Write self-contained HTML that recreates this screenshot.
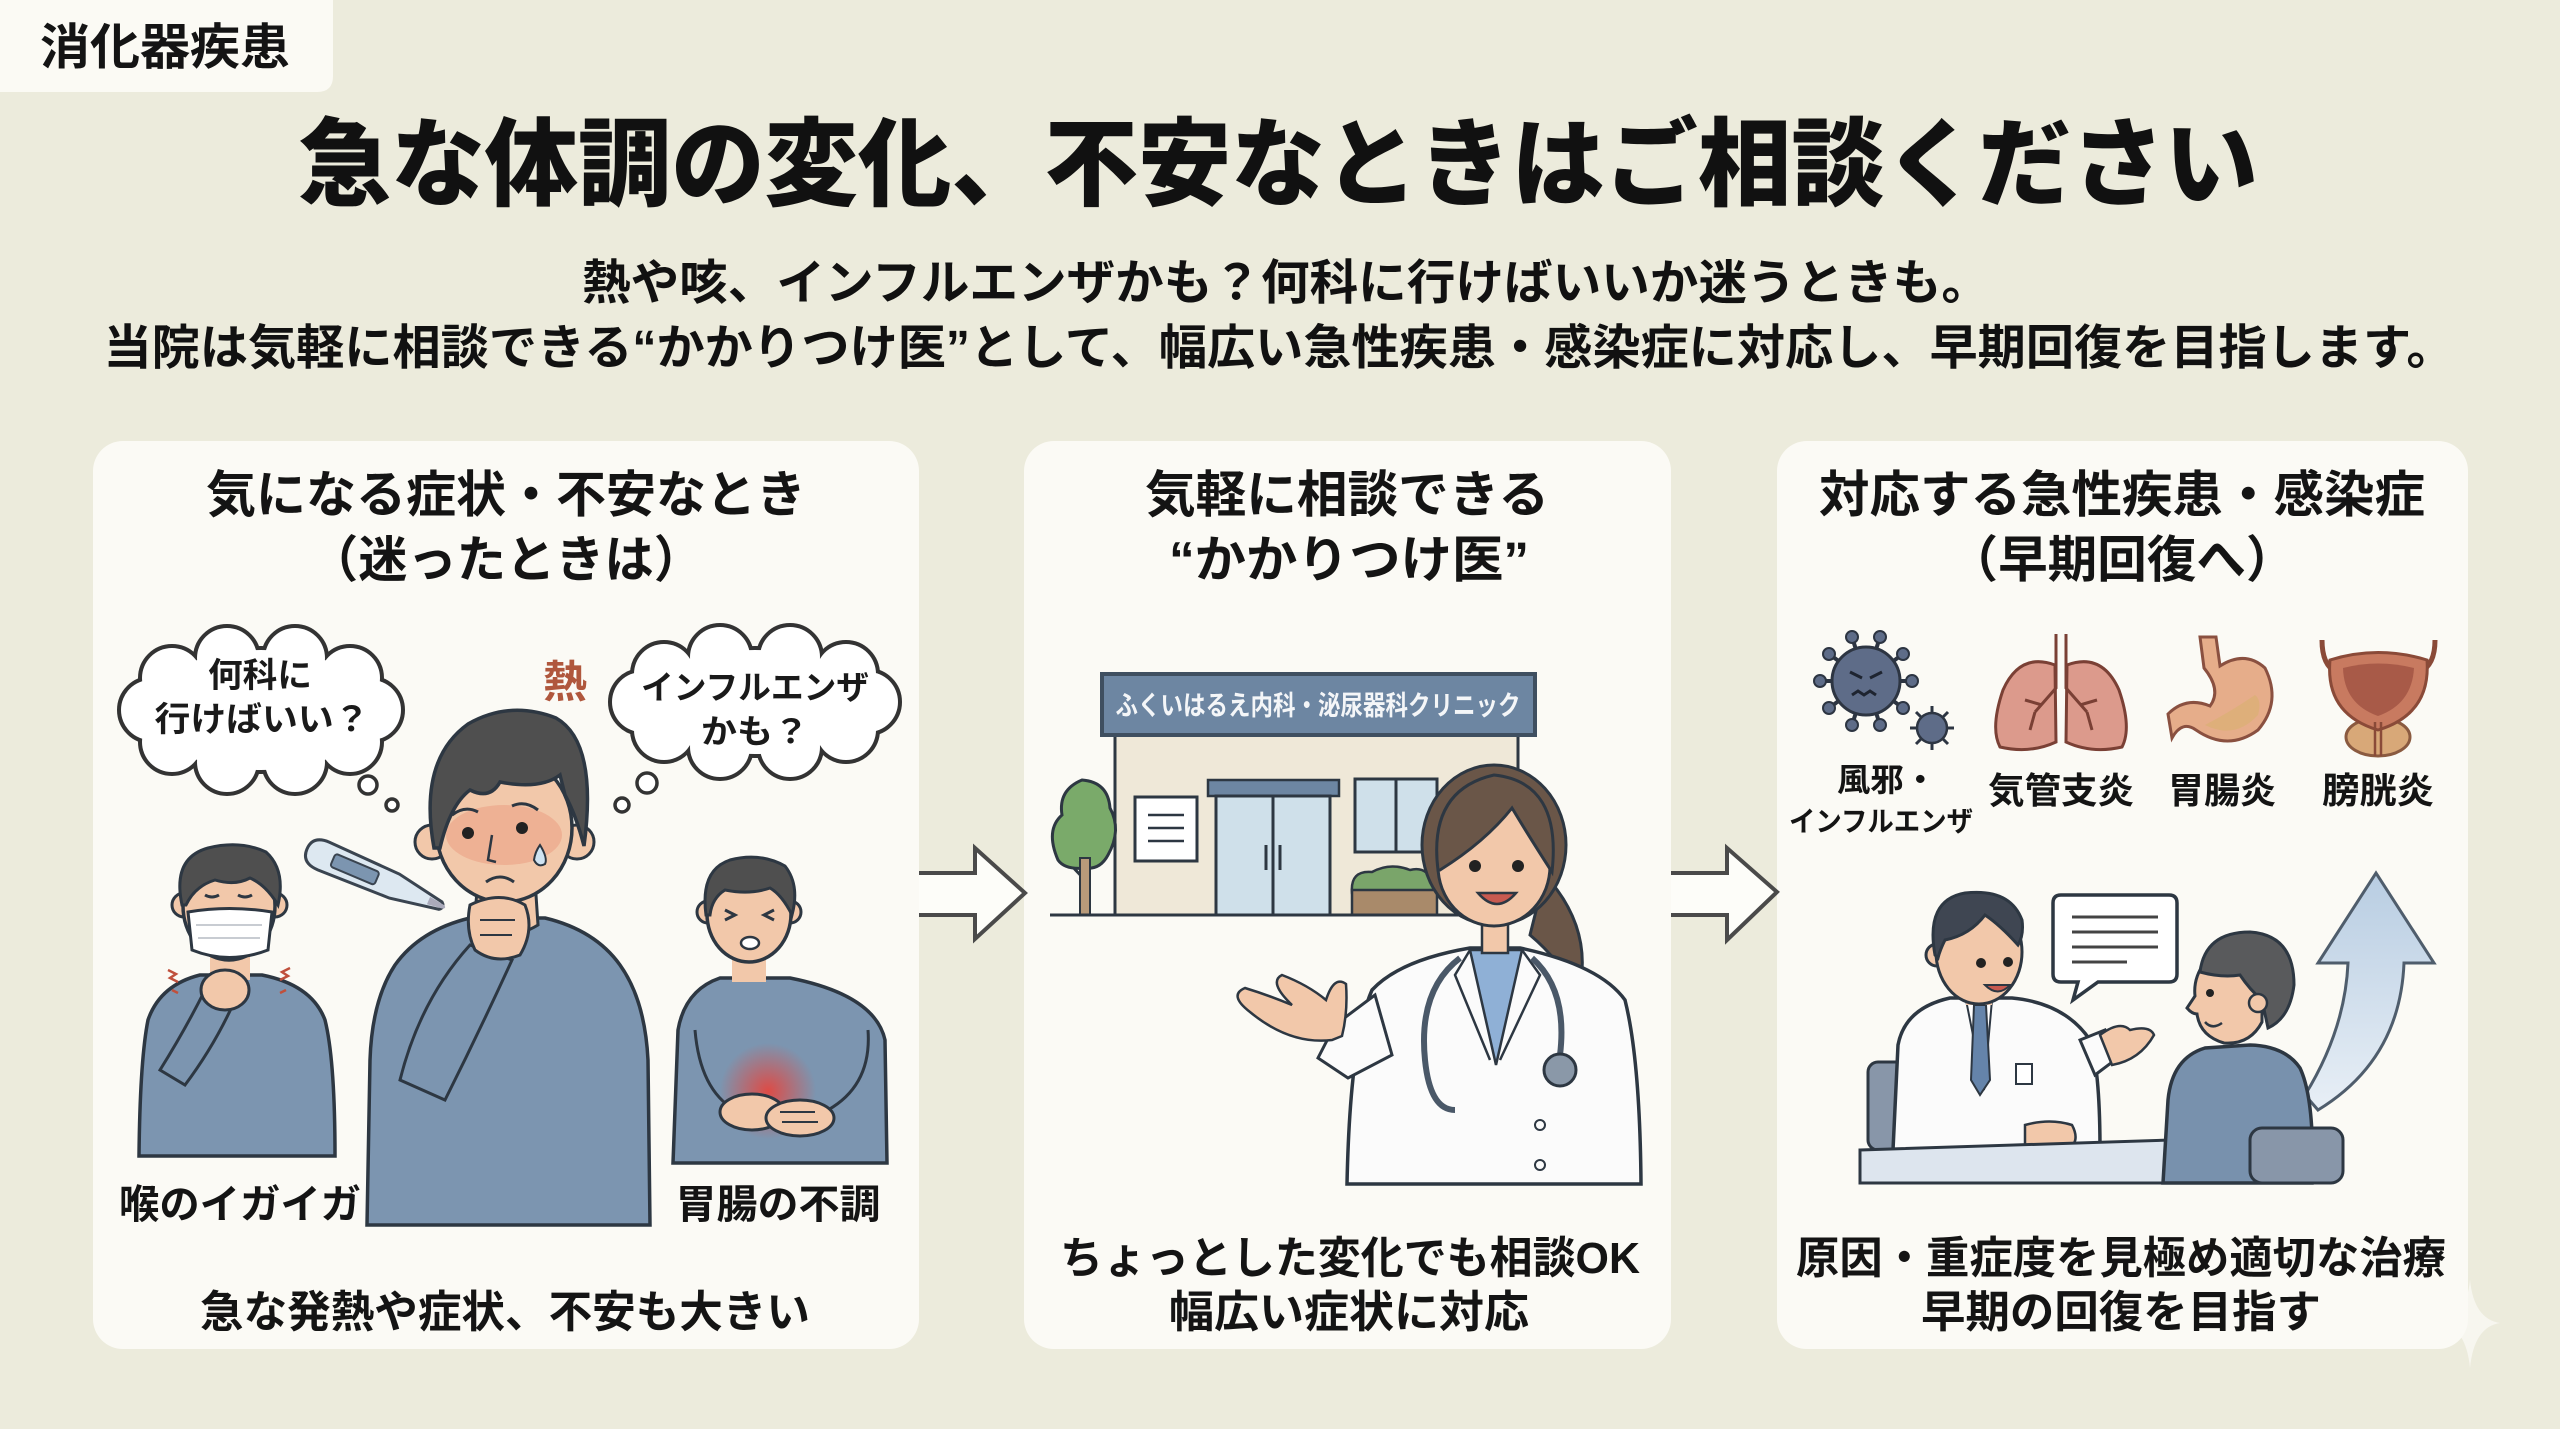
<!DOCTYPE html>
<html><head><meta charset="utf-8">
<style>
html,body{margin:0;padding:0;background:#ecebdc;}
body{width:2560px;height:1429px;overflow:hidden;}
svg{display:block;}
text{font-family:"Liberation Sans","Noto Sans CJK JP",sans-serif;}
</style></head>
<body>
<svg width="2560" height="1429" viewBox="0 0 2560 1429" xmlns="http://www.w3.org/2000/svg">
<defs>
<linearGradient id="ag" x1="0" y1="0" x2="0" y2="1">
<stop offset="0" stop-color="#b8cde2"/><stop offset="1" stop-color="#e8eff6"/>
</linearGradient>
<radialGradient id="glow" cx="0.5" cy="0.5" r="0.5">
<stop offset="0" stop-color="#e8433a" stop-opacity="0.9"/><stop offset="1" stop-color="#e8433a" stop-opacity="0"/>
</radialGradient>
</defs>
<rect width="2560" height="1429" fill="#ecebdc"/>

<!-- tag -->
<path d="M0 0 H333 V76 Q333 92 317 92 H0 Z" fill="#fbfaf4"/>
<text x="40" y="64" font-size="49" font-weight="700" fill="#141414" textLength="250" lengthAdjust="spacingAndGlyphs">消化器疾患</text>

<!-- title -->
<text x="1278" y="198" font-size="96" font-weight="900" fill="#111" text-anchor="middle" textLength="1960" lengthAdjust="spacingAndGlyphs">急な体調の変化、不安なときはご相談ください</text>
<text x="1286" y="299" font-size="48" font-weight="700" fill="#111" text-anchor="middle" textLength="1408" lengthAdjust="spacingAndGlyphs">熱や咳、インフルエンザかも？何科に行けばいいか迷うときも。</text>
<text x="1279" y="364" font-size="48" font-weight="700" fill="#111" text-anchor="middle" textLength="2351" lengthAdjust="spacingAndGlyphs">当院は気軽に相談できる“かかりつけ医”として、幅広い急性疾患・感染症に対応し、早期回復を目指します。</text>

<!-- sparkle -->
<path d="M2470 1280 Q2474 1319 2500 1323 Q2474 1327 2470 1368 Q2466 1327 2440 1323 Q2466 1319 2470 1280Z" fill="#f7f6ef"/>

<!-- panels -->
<rect x="93" y="441" width="826" height="908" rx="30" fill="#fbfaf5"/>
<rect x="1024" y="441" width="647" height="908" rx="30" fill="#fbfaf5"/>
<rect x="1777" y="441" width="691" height="908" rx="30" fill="#fbfaf5"/>

<!-- arrows -->
<polygon points="919,873 975,873 975,848 1025,893 975,939 975,915 919,915" fill="#fdfdf9"/>
<polyline points="919,873 975,873 975,848 1025,893 975,939 975,915 919,915" fill="none" stroke="#4a4a4a" stroke-width="4" stroke-linejoin="miter"/>
<polygon points="1671,873 1727,873 1727,848 1777,892 1727,940 1727,915 1671,915" fill="#fdfdf9"/>
<polyline points="1671,873 1727,873 1727,848 1777,892 1727,940 1727,915 1671,915" fill="none" stroke="#4a4a4a" stroke-width="4"/>

<!-- ===== Panel 1 ===== -->
<text x="506" y="512" font-size="50" font-weight="700" fill="#141414" text-anchor="middle" textLength="600" lengthAdjust="spacingAndGlyphs">気になる症状・不安なとき</text>
<text x="506" y="577" font-size="50" font-weight="700" fill="#141414" text-anchor="middle" textLength="394" lengthAdjust="spacingAndGlyphs">（迷ったときは）</text>

<!-- cloud 1 -->
<g stroke="#333" stroke-width="8" fill="#fff">
<ellipse cx="261" cy="710" rx="115" ry="60"/>
<circle cx="371" cy="710" r="30"/><circle cx="350" cy="742" r="30"/><circle cx="295" cy="762" r="30"/><circle cx="227" cy="762" r="30"/><circle cx="172" cy="742" r="30"/><circle cx="151" cy="710" r="30"/><circle cx="172" cy="678" r="30"/><circle cx="227" cy="658" r="30"/><circle cx="295" cy="658" r="30"/><circle cx="350" cy="678" r="30"/>
</g>
<g fill="#fff">
<ellipse cx="261" cy="710" rx="115" ry="60"/>
<circle cx="371" cy="710" r="30"/><circle cx="350" cy="742" r="30"/><circle cx="295" cy="762" r="30"/><circle cx="227" cy="762" r="30"/><circle cx="172" cy="742" r="30"/><circle cx="151" cy="710" r="30"/><circle cx="172" cy="678" r="30"/><circle cx="227" cy="658" r="30"/><circle cx="295" cy="658" r="30"/><circle cx="350" cy="678" r="30"/>
</g>
<circle cx="368" cy="785" r="9" fill="#fff" stroke="#333" stroke-width="3.5"/>
<circle cx="392" cy="805" r="6" fill="#fff" stroke="#333" stroke-width="3.5"/>
<text x="260" y="687" font-size="34" font-weight="700" fill="#1a1a1a" text-anchor="middle" textLength="104" lengthAdjust="spacingAndGlyphs">何科に</text>
<text x="262" y="731" font-size="34" font-weight="700" fill="#1a1a1a" text-anchor="middle" textLength="215" lengthAdjust="spacingAndGlyphs">行けばいい？</text>

<!-- cloud 2 -->
<g stroke="#333" stroke-width="8" fill="#fff">
<ellipse cx="755" cy="702" rx="118" ry="52"/>
<circle cx="868" cy="702" r="30"/><circle cx="846" cy="730" r="30"/><circle cx="790" cy="747" r="30"/><circle cx="720" cy="747" r="30"/><circle cx="664" cy="730" r="30"/><circle cx="642" cy="702" r="30"/><circle cx="664" cy="674" r="30"/><circle cx="720" cy="657" r="30"/><circle cx="790" cy="657" r="30"/><circle cx="846" cy="674" r="30"/>
</g>
<g fill="#fff">
<ellipse cx="755" cy="702" rx="118" ry="52"/>
<circle cx="868" cy="702" r="30"/><circle cx="846" cy="730" r="30"/><circle cx="790" cy="747" r="30"/><circle cx="720" cy="747" r="30"/><circle cx="664" cy="730" r="30"/><circle cx="642" cy="702" r="30"/><circle cx="664" cy="674" r="30"/><circle cx="720" cy="657" r="30"/><circle cx="790" cy="657" r="30"/><circle cx="846" cy="674" r="30"/>
</g>
<circle cx="647" cy="783" r="10" fill="#fff" stroke="#333" stroke-width="3.5"/>
<circle cx="622" cy="805" r="7" fill="#fff" stroke="#333" stroke-width="3.5"/>
<text x="755" y="699" font-size="33" font-weight="700" fill="#1a1a1a" text-anchor="middle" textLength="228" lengthAdjust="spacingAndGlyphs">インフルエンザ</text>
<text x="755" y="743" font-size="33" font-weight="700" fill="#1a1a1a" text-anchor="middle" textLength="108" lengthAdjust="spacingAndGlyphs">かも？</text>

<text x="565" y="697" font-size="44" font-weight="700" fill="#b0573d" text-anchor="middle">熱</text>

<!-- thermometer -->
<g transform="translate(307,849) rotate(23)">
<path d="M0 0 Q0 -15 18 -15 L95 -13 L145 -4 Q150 0 145 4 L95 13 L18 15 Q0 15 0 0Z" fill="#dde8f1" stroke="#3a4450" stroke-width="3"/>
<rect x="28" y="-7" width="48" height="14" rx="3" fill="#7c95b0" stroke="#3a4450" stroke-width="2"/>
<path d="M132 -4 L148 -2 Q152 0 148 2 L132 4Z" fill="#aab"/>
</g>

<!-- left man (mask) -->
<path d="M200 975 Q160 985 148 1020 Q140 1060 139 1156 L335 1156 Q335 1060 325 1020 Q312 985 262 975 Z" fill="#7c95b0" stroke="#2d3742" stroke-width="3.5"/>
<rect x="210" y="945" width="40" height="35" fill="#f2c8aa"/>
<circle cx="184" cy="905" r="12" fill="#f2c8aa" stroke="#2d3742" stroke-width="3"/>
<circle cx="275" cy="905" r="12" fill="#f2c8aa" stroke="#2d3742" stroke-width="3"/>
<ellipse cx="229" cy="906" rx="46" ry="54" fill="#f2c8aa" stroke="#2d3742" stroke-width="3.5"/>
<path d="M182 905 Q172 858 208 848 Q240 840 266 852 Q286 870 278 905 Q266 885 250 878 Q235 886 215 880 Q195 886 186 905Z" fill="#4f4f4f" stroke="#2d3742" stroke-width="3"/>
<path d="M205 895 Q212 899 219 895 M238 895 Q245 899 252 895" fill="none" stroke="#2d3742" stroke-width="3"/>
<path d="M188 912 Q229 905 272 912 L268 950 Q229 965 192 950 Z" fill="#ffffff" stroke="#2d3742" stroke-width="3"/>
<path d="M196 925 H262 M198 938 H260" stroke="#c8ccd2" stroke-width="2"/>
<path d="M160 1070 Q185 1030 205 990 L235 1000 Q215 1045 185 1085 Z" fill="#7c95b0" stroke="#2d3742" stroke-width="3"/>
<ellipse cx="225" cy="990" rx="24" ry="20" fill="#f2c8aa" stroke="#2d3742" stroke-width="3"/>
<path d="M168 970 l8 4 l-6 4 l8 4 M290 968 l-8 4 l6 4 l-8 4 M172 990 l6 3 M286 990 l-6 3" stroke="#c0503c" stroke-width="2.5" fill="none"/>

<!-- central man -->
<path d="M470 918 Q420 930 395 965 Q372 1000 370 1060 L367 1225 L650 1225 L648 1060 Q645 1000 620 965 Q595 930 545 918 Z" fill="#7c95b0" stroke="#2d3742" stroke-width="3.5"/>
<path d="M478 880 L535 880 L538 925 Q505 945 474 925 Z" fill="#f2c8aa" stroke="#2d3742" stroke-width="3"/>
<circle cx="432" cy="842" r="17" fill="#f2c8aa" stroke="#2d3742" stroke-width="3"/>
<circle cx="577" cy="842" r="17" fill="#f2c8aa" stroke="#2d3742" stroke-width="3"/>
<ellipse cx="504" cy="828" rx="68" ry="74" fill="#f2c8aa" stroke="#2d3742" stroke-width="3.5"/>
<ellipse cx="504" cy="835" rx="58" ry="30" fill="#e8866c" opacity="0.35"/>
<path d="M434 848 Q418 760 468 724 Q510 700 556 718 Q598 742 584 846 Q576 815 565 795 L560 775 Q540 790 500 782 Q490 800 470 790 Q450 805 440 848 Z" fill="#4f4f4f" stroke="#2d3742" stroke-width="3.5"/>
<circle cx="468" cy="833" r="6" fill="#222"/><circle cx="522" cy="828" r="6" fill="#222"/>
<path d="M452 815 Q465 805 478 812 M512 806 Q525 800 538 810" fill="none" stroke="#2d3742" stroke-width="3"/>
<path d="M492 835 L488 860 L496 862" fill="none" stroke="#2d3742" stroke-width="2.5"/>
<path d="M486 882 Q500 872 514 882" fill="none" stroke="#2d3742" stroke-width="3"/>
<path d="M540 845 Q548 858 545 864 Q538 868 534 860 Q535 852 540 845Z" fill="#cfe3f2" stroke="#2d3742" stroke-width="2"/>
<path d="M400 1080 Q420 1000 470 945 L512 960 Q480 1030 445 1100 Z" fill="#7c95b0" stroke="#2d3742" stroke-width="3"/>
<path d="M470 905 Q500 890 525 905 Q535 930 520 955 Q495 965 475 950 Q465 930 470 905Z" fill="#f2c8aa" stroke="#2d3742" stroke-width="3"/>
<path d="M480 920 H515 M480 935 H512" stroke="#2d3742" stroke-width="2"/>

<!-- right man (stomach) -->
<path d="M720 978 Q685 990 678 1030 L673 1163 L887 1163 L885 1040 Q875 995 790 978 Z" fill="#7c95b0" stroke="#2d3742" stroke-width="3.5"/>
<path d="M695 1030 Q700 1090 735 1110 M868 1030 Q872 1085 828 1110" fill="none" stroke="#2d3742" stroke-width="3"/>
<rect x="732" y="950" width="34" height="32" fill="#f2c8aa"/>
<circle cx="708" cy="912" r="11" fill="#f2c8aa" stroke="#2d3742" stroke-width="3"/>
<circle cx="790" cy="912" r="11" fill="#f2c8aa" stroke="#2d3742" stroke-width="3"/>
<ellipse cx="749" cy="914" rx="42" ry="48" fill="#f2c8aa" stroke="#2d3742" stroke-width="3.5"/>
<path d="M706 915 Q700 870 730 860 Q760 852 785 866 Q800 885 792 915 Q782 895 770 888 Q750 895 725 890 Q712 898 710 915Z" fill="#4f4f4f" stroke="#2d3742" stroke-width="3"/>
<path d="M725 910 l10 5 l-10 5 M774 910 l-10 5 l10 5" fill="none" stroke="#2d3742" stroke-width="3"/>
<ellipse cx="750" cy="943" rx="9" ry="6" fill="#fff" stroke="#2d3742" stroke-width="2.5"/>
<circle cx="768" cy="1091" r="48" fill="url(#glow)"/>
<ellipse cx="752" cy="1112" rx="32" ry="18" fill="#f2c8aa" stroke="#2d3742" stroke-width="3"/>
<ellipse cx="800" cy="1118" rx="34" ry="18" fill="#f2c8aa" stroke="#2d3742" stroke-width="3"/>
<path d="M780 1112 H815 M782 1122 H818" stroke="#2d3742" stroke-width="2"/>

<text x="240" y="1218" font-size="40" font-weight="700" fill="#141414" text-anchor="middle" textLength="242" lengthAdjust="spacingAndGlyphs">喉のイガイガ</text>
<text x="778" y="1218" font-size="40" font-weight="700" fill="#141414" text-anchor="middle" textLength="205" lengthAdjust="spacingAndGlyphs">胃腸の不調</text>
<text x="505" y="1327" font-size="44" font-weight="700" fill="#141414" text-anchor="middle" textLength="610" lengthAdjust="spacingAndGlyphs">急な発熱や症状、不安も大きい</text>

<!-- ===== Panel 2 ===== -->
<text x="1347" y="512" font-size="50" font-weight="700" fill="#141414" text-anchor="middle" textLength="404" lengthAdjust="spacingAndGlyphs">気軽に相談できる</text>
<text x="1349" y="577" font-size="50" font-weight="700" fill="#141414" text-anchor="middle" textLength="360" lengthAdjust="spacingAndGlyphs">“かかりつけ医”</text>

<!-- building -->
<rect x="1115" y="735" width="403" height="180" fill="#efe8d8" stroke="#2d3742" stroke-width="3"/>
<rect x="1102" y="674" width="433" height="61" fill="#6d86a2" stroke="#3f4f60" stroke-width="4"/>
<text x="1318" y="715" font-size="27" font-weight="700" fill="#f4f6f8" text-anchor="middle" textLength="405" lengthAdjust="spacingAndGlyphs">ふくいはるえ内科・泌尿器科クリニック</text>
<rect x="1135" y="797" width="62" height="64" fill="#fff" stroke="#2d3742" stroke-width="3"/>
<path d="M1148 815 H1184 M1148 828 H1184 M1148 841 H1184" stroke="#2d3742" stroke-width="2.5"/>
<rect x="1208" y="780" width="131" height="16" fill="#6d86a2" stroke="#2d3742" stroke-width="2.5"/>
<rect x="1216" y="796" width="57" height="119" fill="#cfe0ea" stroke="#2d3742" stroke-width="3"/>
<rect x="1273" y="796" width="57" height="119" fill="#cfe0ea" stroke="#2d3742" stroke-width="3"/>
<path d="M1266 845 V870 M1280 845 V870" stroke="#2d3742" stroke-width="3"/>
<rect x="1355" y="779" width="82" height="73" fill="#cfe0ea" stroke="#2d3742" stroke-width="3"/>
<path d="M1396 779 V852" stroke="#2d3742" stroke-width="3"/>
<path d="M1352 893 Q1350 870 1372 872 Q1390 862 1410 870 Q1430 865 1435 890 Z" fill="#7aa56a" stroke="#2d3742" stroke-width="2.5"/>
<rect x="1352" y="890" width="85" height="25" fill="#a98a6a" stroke="#2d3742" stroke-width="2.5"/>
<path d="M1085 915 V850 M1085 880 L1068 862 M1085 870 L1100 855" stroke="#2d3742" stroke-width="3"/>
<path d="M1058 860 Q1045 830 1062 815 Q1058 790 1082 780 Q1108 782 1110 808 Q1122 830 1108 855 Q1100 870 1085 868 Q1065 870 1058 860Z" fill="#7aaa6a" stroke="#2d3742" stroke-width="3"/>
<rect x="1080" y="858" width="10" height="57" fill="#b89a7a" stroke="#2d3742" stroke-width="2"/>
<line x1="1050" y1="915" x2="1440" y2="915" stroke="#2d3742" stroke-width="3"/>

<!-- woman doctor -->
<path d="M1545 875 Q1595 930 1578 995 Q1560 960 1530 935 Z" fill="#6a5648" stroke="#2d3742" stroke-width="3"/>
<ellipse cx="1494" cy="845" rx="72" ry="80" fill="#6a5648" stroke="#2d3742" stroke-width="3"/>
<path d="M1470 948 Q1400 960 1372 990 Q1350 1040 1347 1184 L1641 1184 Q1640 1060 1625 1000 Q1600 965 1520 948 Z" fill="#fbfbfb" stroke="#2d3742" stroke-width="3.5"/>
<path d="M1470 950 L1522 950 L1496 1065 Z" fill="#8fb0d6" stroke="#2d3742" stroke-width="2.5"/>
<path d="M1470 950 L1455 975 L1490 1060 M1522 950 L1540 975 L1500 1060" fill="none" stroke="#2d3742" stroke-width="2.5"/>
<rect x="1482" y="915" width="26" height="38" fill="#f2c8aa" stroke="#2d3742" stroke-width="2.5"/>
<ellipse cx="1494" cy="866" rx="56" ry="60" fill="#f2c8aa" stroke="#2d3742" stroke-width="3"/>
<path d="M1438 870 Q1428 790 1494 775 Q1562 782 1552 872 Q1530 838 1512 808 Q1485 842 1440 870 Z" fill="#6a5648" stroke="#2d3742" stroke-width="3"/>
<circle cx="1475" cy="866" r="6" fill="#222"/><circle cx="1518" cy="866" r="6" fill="#222"/>
<path d="M1478 893 Q1497 915 1516 893 Z" fill="#c85a50" stroke="#2d3742" stroke-width="2.5"/>
<path d="M1460 958 Q1418 990 1425 1060 Q1430 1110 1455 1110 M1532 958 Q1568 990 1560 1055" fill="none" stroke="#4a5868" stroke-width="6"/>
<circle cx="1560" cy="1070" r="16" fill="#8a98a8" stroke="#2d3742" stroke-width="3"/>
<circle cx="1540" cy="1125" r="5" fill="none" stroke="#2d3742" stroke-width="2"/>
<circle cx="1540" cy="1165" r="5" fill="none" stroke="#2d3742" stroke-width="2"/>
<path d="M1375 995 L1335 1025 L1318 1058 L1348 1078 L1392 1055 Z" fill="#fbfbfb" stroke="#2d3742" stroke-width="3"/>
<path d="M1332 1040 Q1290 1045 1250 1012 Q1228 995 1245 988 Q1268 995 1292 1005 Q1268 982 1282 975 Q1308 985 1326 1000 Q1334 975 1346 984 Q1348 1012 1342 1036 Z" fill="#f2c8aa" stroke="#2d3742" stroke-width="2.5"/>

<text x="1350" y="1273" font-size="44" font-weight="700" fill="#141414" text-anchor="middle" textLength="580" lengthAdjust="spacingAndGlyphs">ちょっとした変化でも相談OK</text>
<text x="1349" y="1327" font-size="44" font-weight="700" fill="#141414" text-anchor="middle" textLength="360" lengthAdjust="spacingAndGlyphs">幅広い症状に対応</text>

<!-- ===== Panel 3 ===== -->
<text x="2122" y="512" font-size="50" font-weight="700" fill="#141414" text-anchor="middle" textLength="606" lengthAdjust="spacingAndGlyphs">対応する急性疾患・感染症</text>
<text x="2122" y="577" font-size="50" font-weight="700" fill="#141414" text-anchor="middle" textLength="347" lengthAdjust="spacingAndGlyphs">（早期回復へ）</text>

<!-- virus -->
<g stroke="#2d3542" stroke-width="4">
<line x1="1866" y1="681" x2="1912" y2="681"/><line x1="1866" y1="681" x2="1903" y2="708"/><line x1="1866" y1="681" x2="1880" y2="725"/><line x1="1866" y1="681" x2="1852" y2="725"/><line x1="1866" y1="681" x2="1829" y2="708"/><line x1="1866" y1="681" x2="1820" y2="681"/><line x1="1866" y1="681" x2="1829" y2="654"/><line x1="1866" y1="681" x2="1852" y2="637"/><line x1="1866" y1="681" x2="1880" y2="637"/><line x1="1866" y1="681" x2="1903" y2="654"/>
</g>
<g fill="#5e6c88" stroke="#2d3542" stroke-width="2">
<circle cx="1912" cy="681" r="6"/><circle cx="1903" cy="708" r="6"/><circle cx="1880" cy="725" r="6"/><circle cx="1852" cy="725" r="6"/><circle cx="1829" cy="708" r="6"/><circle cx="1820" cy="681" r="6"/><circle cx="1829" cy="654" r="6"/><circle cx="1852" cy="637" r="6"/><circle cx="1880" cy="637" r="6"/><circle cx="1903" cy="654" r="6"/>
<circle cx="1866" cy="681" r="34" stroke-width="3"/>
</g>
<path d="M1850 672 l12 6 M1882 672 l-12 6 M1852 695 l6 -4 l6 4 l6 -4 l6 4" fill="none" stroke="#1e2430" stroke-width="3"/>
<g stroke="#2d3542" stroke-width="3">
<line x1="1932" y1="728" x2="1954" y2="728"/><line x1="1932" y1="728" x2="1948" y2="744"/><line x1="1932" y1="728" x2="1932" y2="750"/><line x1="1932" y1="728" x2="1916" y2="744"/><line x1="1932" y1="728" x2="1910" y2="728"/><line x1="1932" y1="728" x2="1916" y2="712"/><line x1="1932" y1="728" x2="1932" y2="706"/><line x1="1932" y1="728" x2="1948" y2="712"/>
</g>
<circle cx="1932" cy="728" r="15" fill="#5e6c88" stroke="#2d3542" stroke-width="2.5"/>

<!-- lungs -->
<path d="M2055 665 Q2020 652 2003 690 Q1990 728 2000 747 Q2030 754 2056 742 Z" fill="#dc9a8c" stroke="#7a4035" stroke-width="3"/>
<path d="M2067 665 Q2102 652 2119 690 Q2132 728 2122 747 Q2092 754 2066 742 Z" fill="#dc9a8c" stroke="#7a4035" stroke-width="3"/>
<path d="M2056 634 V688 L2035 712 M2066 634 V688 L2087 712 M2042 705 L2025 700 M2080 705 L2097 700 M2035 712 L2030 730 M2087 712 L2092 730" fill="none" stroke="#7a4035" stroke-width="3"/>

<!-- stomach -->
<path d="M2200 637 L2216 637 L2220 666 Q2245 650 2265 668 Q2282 702 2258 730 Q2228 752 2196 730 Q2182 720 2172 738 L2168 714 Q2186 696 2210 706 Q2222 690 2204 668 Z" fill="#e6ad8a" stroke="#8a5040" stroke-width="3"/>
<path d="M2205 725 Q2235 740 2258 715 Q2262 700 2255 695 Q2230 712 2205 725Z" fill="#d9b070" opacity="0.6"/>

<!-- bladder -->
<path d="M2322 640 Q2322 665 2336 672 M2435 640 Q2435 665 2420 672" fill="none" stroke="#8a4a38" stroke-width="5"/>
<ellipse cx="2378" cy="737" rx="32" ry="19" fill="#d8a878" stroke="#8a5a40" stroke-width="3"/>
<path d="M2330 660 Q2378 645 2427 660 Q2431 714 2378 730 Q2325 714 2330 660 Z" fill="#c87a60" stroke="#8a4a38" stroke-width="3"/>
<path d="M2343 668 Q2378 659 2414 668 Q2412 704 2378 716 Q2344 704 2343 668Z" fill="#a85a48"/>
<path d="M2375 722 V756 M2381 722 V756" stroke="#8a4a38" stroke-width="2.5"/>

<text x="1887" y="791" font-size="32" font-weight="700" fill="#141414" text-anchor="middle" textLength="100" lengthAdjust="spacingAndGlyphs">風邪・</text>
<text x="1881" y="831" font-size="28" font-weight="700" fill="#141414" text-anchor="middle" textLength="184" lengthAdjust="spacingAndGlyphs">インフルエンザ</text>
<text x="2061" y="803" font-size="36" font-weight="700" fill="#141414" text-anchor="middle" textLength="146" lengthAdjust="spacingAndGlyphs">気管支炎</text>
<text x="2222" y="803" font-size="36" font-weight="700" fill="#141414" text-anchor="middle" textLength="108" lengthAdjust="spacingAndGlyphs">胃腸炎</text>
<text x="2378" y="803" font-size="36" font-weight="700" fill="#141414" text-anchor="middle" textLength="112" lengthAdjust="spacingAndGlyphs">膀胱炎</text>

<!-- up arrow -->
<path d="M2305 1095 Q2345 1030 2348 963 L2318 963 L2376 873 L2434 963 L2404 963 Q2400 1060 2318 1110 Z" fill="url(#ag)" stroke="#4f5d6c" stroke-width="3"/>

<!-- speech bubble -->
<path d="M2061 895 H2169 Q2177 895 2177 903 V974 Q2177 982 2169 982 H2098 L2073 1000 L2078 982 H2061 Q2053 982 2053 974 V903 Q2053 895 2061 895Z" fill="#fff" stroke="#2d3742" stroke-width="3.5"/>
<path d="M2072 917 H2158 M2072 932 H2158 M2072 947 H2158 M2072 962 H2127" stroke="#444" stroke-width="3"/>

<!-- chair left -->
<rect x="1868" y="1062" width="44" height="88" rx="10" fill="#8896a9" stroke="#2d3742" stroke-width="3"/>
<!-- doctor male -->
<path d="M1950 998 Q1905 1008 1898 1045 L1893 1150 L2100 1150 Q2100 1070 2090 1040 Q2065 1003 2012 998 Z" fill="#fbfbfb" stroke="#2d3742" stroke-width="3.5"/>
<path d="M1966 1000 L1992 1000 L1984 1090 Z" fill="#fff" stroke="#2d3742" stroke-width="2"/>
<path d="M1974 1005 L1986 1005 L1990 1080 L1980 1095 L1971 1080 Z" fill="#6584aa" stroke="#2d3742" stroke-width="2"/>
<rect x="2016" y="1064" width="16" height="20" fill="#fff" stroke="#2d3742" stroke-width="2"/>
<path d="M2080 1040 L2105 1030 L2115 1060 L2095 1075 Z" fill="#fbfbfb" stroke="#2d3742" stroke-width="3"/>
<path d="M2100 1035 Q2120 1020 2130 1030 Q2150 1025 2154 1035 Q2140 1060 2112 1065 Z" fill="#f2c8aa" stroke="#2d3742" stroke-width="2.5"/>
<path d="M2025 1125 Q2050 1118 2072 1125 Q2080 1140 2070 1148 L2025 1148 Z" fill="#f2c8aa" stroke="#2d3742" stroke-width="2.5"/>
<rect x="1966" y="985" width="26" height="20" fill="#f2c8aa"/>
<circle cx="1937" cy="955" r="11" fill="#f2c8aa" stroke="#2d3742" stroke-width="3"/>
<ellipse cx="1979" cy="952" rx="43" ry="52" fill="#f2c8aa" stroke="#2d3742" stroke-width="3"/>
<path d="M1935 955 Q1925 900 1965 893 Q2010 888 2022 920 Q2024 935 2018 945 Q2000 925 1985 915 Q1970 935 1945 940 Q1940 950 1938 958Z" fill="#3f4652" stroke="#2d3742" stroke-width="3"/>
<circle cx="1981" cy="963" r="5" fill="#222"/><circle cx="2008" cy="962" r="5" fill="#222"/>
<path d="M1985 985 Q1998 998 2010 985 Z" fill="#c85a50" stroke="#2d3742" stroke-width="2"/>

<!-- desk -->
<path d="M1860 1150 L2170 1140 L2170 1183 L1860 1183 Z" fill="#dde5ee" stroke="#2d3742" stroke-width="3"/>

<!-- patient -->
<path d="M2205 1048 Q2172 1058 2168 1100 L2163 1183 L2312 1183 Q2315 1100 2300 1068 Q2285 1046 2250 1045 Z" fill="#7891ad" stroke="#2d3742" stroke-width="3.5"/>
<rect x="2250" y="1128" width="93" height="55" rx="12" fill="#8896a9" stroke="#2d3742" stroke-width="3"/>
<path d="M2205 962 Q2193 978 2195 996 L2187 1008 Q2192 1014 2197 1014 Q2200 1036 2224 1043 Q2250 1045 2262 1022 L2262 985 Q2240 963 2205 962Z" fill="#f2c8aa" stroke="#2d3742" stroke-width="3"/>
<path d="M2200 972 Q2205 932 2250 932 Q2294 935 2294 985 Q2290 1018 2268 1028 L2262 1000 Q2250 990 2240 975 Q2222 978 2200 972Z" fill="#595a5c" stroke="#2d3742" stroke-width="3"/>
<circle cx="2258" cy="1003" r="9" fill="#f2c8aa" stroke="#2d3742" stroke-width="2.5"/>
<circle cx="2210" cy="993" r="4" fill="#222"/>
<path d="M2205 1022 Q2212 1030 2222 1023" fill="none" stroke="#2d3742" stroke-width="2.5"/>

<text x="2121" y="1273" font-size="44" font-weight="700" fill="#141414" text-anchor="middle" textLength="650" lengthAdjust="spacingAndGlyphs">原因・重症度を見極め適切な治療</text>
<text x="2121" y="1327" font-size="44" font-weight="700" fill="#141414" text-anchor="middle" textLength="400" lengthAdjust="spacingAndGlyphs">早期の回復を目指す</text>
</svg>
</body></html>
